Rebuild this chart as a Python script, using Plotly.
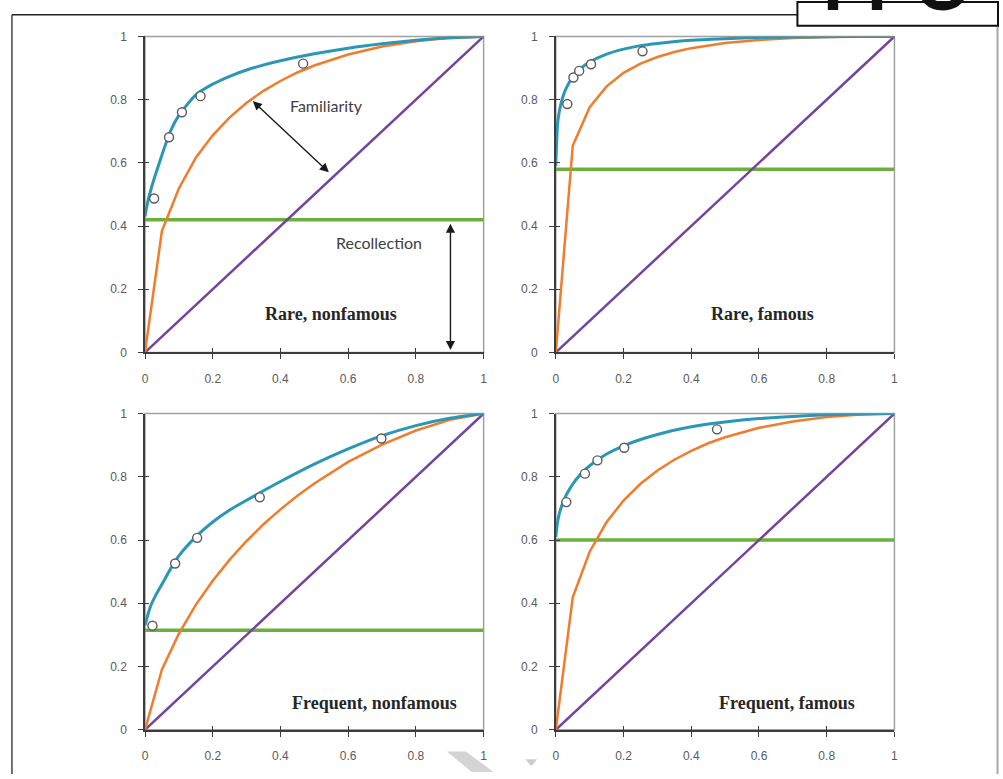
import plotly.graph_objects as go

# ---------------- data ----------------
panel_names = ["Rare, nonfamous", "Rare, famous", "Frequent, nonfamous", "Frequent, famous"]
recollection = [0.42, 0.58, 0.315, 0.60]

tick_vals = [0, 0.2, 0.4, 0.6, 0.8, 1]
tick_text = ["0", "0.2", "0.4", "0.6", "0.8", "1"]

chance_x = [0, 1]
chance_y = [0, 1]

# familiarity-only ROC (orange)
fam_x = [0, 0.05, 0.1, 0.15, 0.2, 0.25, 0.3, 0.35, 0.4, 0.45, 0.5, 0.6, 0.7, 0.8, 0.9, 1.0]
fam_y_rare_nonfamous = [0, 0.385, 0.519, 0.616, 0.687, 0.744, 0.790, 0.828, 0.859, 0.886, 0.908, 0.943, 0.968, 0.985, 0.9955, 1]
fam_y_rare_famous = [0, 0.654, 0.776, 0.842, 0.885, 0.914, 0.935, 0.951, 0.963, 0.972, 0.979, 0.989, 0.995, 0.9985, 0.9998, 1]
fam_y_freq_nonfamous = [0, 0.191, 0.304, 0.395, 0.471, 0.538, 0.597, 0.650, 0.697, 0.740, 0.779, 0.847, 0.902, 0.9465, 0.980, 1]
fam_y_freq_famous = [0, 0.419, 0.563, 0.657, 0.725, 0.778, 0.820, 0.854, 0.882, 0.906, 0.925, 0.955, 0.975, 0.989, 0.997, 1]

# fitted dual-process ROC (teal)
fit_x = [0, 0.005, 0.01, 0.02, 0.03, 0.05, 0.075, 0.1, 0.15, 0.2, 0.25, 0.3, 0.4, 0.5, 0.6, 0.7, 0.8, 0.9, 1.0]
fit_y_rare_nonfamous = [0.43, 0.46, 0.485, 0.525, 0.56, 0.625, 0.70, 0.75, 0.815, 0.849, 0.874, 0.894, 0.923, 0.945, 0.963, 0.977, 0.988, 0.996, 1]
fit_y_rare_famous = [0.59, 0.721, 0.761, 0.806, 0.835, 0.871, 0.900, 0.919, 0.944, 0.960, 0.971, 0.978, 0.988, 0.993, 0.997, 0.998, 0.999, 1.0, 1.0]
fit_y_freq_nonfamous = [0.33, 0.35, 0.37, 0.40, 0.422, 0.46, 0.508, 0.55, 0.61, 0.657, 0.695, 0.726, 0.785, 0.84, 0.888, 0.93, 0.962, 0.985, 1]
fit_y_freq_famous = [0.61, 0.656, 0.682, 0.716, 0.741, 0.777, 0.810, 0.835, 0.872, 0.898, 0.918, 0.934, 0.958, 0.973, 0.984, 0.991, 0.996, 0.999, 1.0]

# observed ROC points (circles)
obs_fa_rare_nonfamous = [0.027, 0.071, 0.109, 0.164, 0.467]
obs_hit_rare_nonfamous = [0.487, 0.681, 0.760, 0.811, 0.914]
obs_fa_rare_famous = [0.034, 0.052, 0.069, 0.104, 0.256]
obs_hit_rare_famous = [0.786, 0.870, 0.891, 0.912, 0.953]
obs_fa_freq_nonfamous = [0.022, 0.089, 0.154, 0.339, 0.698]
obs_hit_freq_nonfamous = [0.329, 0.526, 0.607, 0.735, 0.921]
obs_fa_freq_famous = [0.031, 0.086, 0.123, 0.202, 0.476]
obs_hit_freq_famous = [0.720, 0.810, 0.852, 0.892, 0.950]

fam_ys = [fam_y_rare_nonfamous, fam_y_rare_famous, fam_y_freq_nonfamous, fam_y_freq_famous]
fit_ys = [fit_y_rare_nonfamous, fit_y_rare_famous, fit_y_freq_nonfamous, fit_y_freq_famous]
obs_fas = [obs_fa_rare_nonfamous, obs_fa_rare_famous, obs_fa_freq_nonfamous, obs_fa_freq_famous]
obs_hits = [obs_hit_rare_nonfamous, obs_hit_rare_famous, obs_hit_freq_nonfamous, obs_hit_freq_famous]

# ---------------- styling ----------------
W, H = 1003, 779
TEAL = "#2a97b5"
ORANGE = "#f07c2c"
PURPLE = "#7443a0"
GREEN = "#6bb03c"
AXIS = "#3c3c3c"
FRAME = "#a0a0a0"


def px(x):
    return x / W


def py(y):
    return 1 - y / H


x_domains = [[px(143), px(484)], [px(556.7), px(897.7)]]
y_domains = [[py(351.7), py(30)], [py(736), py(414)]]

fig = go.Figure()

label_pos = [(0.548, 0.12), (0.611, 0.12), (0.679, 0.084), (0.684, 0.084)]

for i in range(4):
    xa = "x" if i == 0 else f"x{i+1}"
    ya = "y" if i == 0 else f"y{i+1}"
    R = recollection[i]
    fig.add_trace(go.Scatter(x=[0, 1], y=[R, R], xaxis=xa, yaxis=ya, mode="lines",
                             line=dict(color=GREEN, width=3.5), showlegend=False, hoverinfo="skip"))
    fig.add_trace(go.Scatter(x=chance_x, y=chance_y, xaxis=xa, yaxis=ya, mode="lines",
                             line=dict(color=PURPLE, width=2.5), showlegend=False, hoverinfo="skip"))
    fig.add_trace(go.Scatter(x=fam_x, y=fam_ys[i], xaxis=xa, yaxis=ya, mode="lines",
                             line=dict(color=ORANGE, width=2.5), showlegend=False))
    fig.add_trace(go.Scatter(x=fit_x, y=fit_ys[i], xaxis=xa, yaxis=ya, mode="lines",
                             line=dict(color=TEAL, width=3, shape="spline", smoothing=0.6), showlegend=False))
    fig.add_trace(go.Scatter(x=obs_fas[i], y=obs_hits[i], xaxis=xa, yaxis=ya, mode="markers",
                             marker=dict(symbol="circle", size=9, color="white",
                                         line=dict(color="#5a5a5a", width=1.4)),
                             showlegend=False, cliponaxis=False))

    col = i % 2
    row = i // 2
    axis_common = dict(range=[0, 1], tickvals=tick_vals, ticktext=tick_text, showgrid=False,
                       zeroline=False, showline=True, linecolor=AXIS, linewidth=1.5,
                       ticks="outside", ticklen=5, tickwidth=1.3, tickcolor=AXIS,
                       tickfont=dict(family="Liberation Sans, Arial", size=12, color="#5a5a5a"),
                       ticklabelstandoff=9, fixedrange=True)
    xkey = "xaxis" if i == 0 else f"xaxis{i+1}"
    ykey = "yaxis" if i == 0 else f"yaxis{i+1}"
    fig.update_layout(**{
        xkey: dict(domain=x_domains[col], anchor=ya, **axis_common),
        ykey: dict(domain=y_domains[row], anchor=xa, **axis_common),
    })

    # overlay axes that add the inner half of each tick mark (cross-shaped ticks)
    ox, oy = f"x{i+5}", f"y{i+5}"
    inner_ticks = dict(range=[0, 1], tickvals=tick_vals, showticklabels=False, showgrid=False,
                       zeroline=False, showline=False, ticks="inside", ticklen=4, tickwidth=1.3,
                       tickcolor=AXIS, fixedrange=True)
    fig.update_layout(**{
        f"xaxis{i+5}": dict(overlaying=xa, anchor=oy, domain=x_domains[col], **inner_ticks),
        f"yaxis{i+5}": dict(overlaying=ya, anchor=ox, domain=y_domains[row], **inner_ticks),
    })
    fig.add_trace(go.Scatter(x=[None], y=[None], xaxis=ox, yaxis=oy, mode="markers",
                             showlegend=False, hoverinfo="skip"))

    # gray plot frame
    fig.add_shape(type="rect", xref=f"{xa} domain", yref=f"{ya} domain", x0=0, x1=1, y0=0, y1=1,
                  line=dict(color=FRAME, width=1.5), layer="below")
    lx, ly = label_pos[i]
    fig.add_annotation(x=lx, y=ly, xref=xa, yref=ya, text=f"<b>{panel_names[i]}</b>", showarrow=False,
                       font=dict(family="Liberation Serif, Times New Roman", size=18, color="#262626"))

# Familiarity / Recollection annotations
fig.add_annotation(x=0.537, y=0.782, xref="x", yref="y", text="Familiarity", showarrow=False,
                   font=dict(family="Lato", size=16, color="#404040"))
fig.add_annotation(x=0.692, y=0.347, xref="x", yref="y", text="Recollection", showarrow=False,
                   font=dict(family="Lato", size=16, color="#404040"))
fig.add_annotation(x=0.543, y=0.570, ax=0.314, ay=0.80, xref="x", yref="y", axref="x", ayref="y",
                   text="", showarrow=True, arrowhead=2, startarrowhead=2, arrowside="end+start",
                   arrowsize=1.3, startarrowsize=1.3, arrowwidth=1.4, arrowcolor="#1a1a1a")
fig.add_annotation(x=0.902, y=0.0075, ax=0.902, ay=0.412, xref="x", yref="y", axref="x", ayref="y",
                   text="", showarrow=True, arrowhead=2, startarrowhead=2, arrowside="end+start",
                   arrowsize=1.3, startarrowsize=1.3, arrowwidth=1.4, arrowcolor="#1a1a1a")

# page frame lines
fig.add_shape(type="line", xref="paper", yref="paper", x0=px(9), x1=px(9), y0=py(8), y1=py(781),
              line=dict(color="#444444", width=1.5))
fig.add_shape(type="line", xref="paper", yref="paper", x0=px(9), x1=px(801), y0=py(8), y1=py(8),
              line=dict(color="#222222", width=1.5))
fig.add_shape(type="line", xref="paper", yref="paper", x0=px(1001.5), x1=px(1001.5), y0=py(19), y1=py(781),
              line=dict(color="#a8a8a8", width=2))
# FPO tag box
fig.add_shape(type="rect", xref="paper", yref="paper", x0=px(800), x1=px(1002), y0=py(19), y1=py(-5),
              line=dict(color="#111111", width=2), fillcolor="white")
fig.add_annotation(x=px(824), y=py(20.5), xref="paper", yref="paper", xanchor="left", yanchor="bottom",
                   text="<b>FPO</b>", showarrow=False,
                   font=dict(family="Liberation Sans, Arial", size=72, color="#111111"))
# faint watermark pieces
fig.add_shape(type="path", xref="paper", yref="paper",
              path=f"M {px(447)} {py(758)} L {px(466)} {py(758)} L {px(494)} {py(779)} L {px(472)} {py(779)} Z",
              fillcolor="#d4d4d4", line=dict(width=0))
fig.add_shape(type="path", xref="paper", yref="paper",
              path=f"M {px(526)} {py(766)} L {px(538)} {py(766)} L {px(532)} {py(773)} Z",
              fillcolor="#cccccc", line=dict(width=0))

fig.update_layout(width=W, height=H, margin=dict(l=0, r=0, t=0, b=0),
                  paper_bgcolor="white", plot_bgcolor="white", showlegend=False)

fig.write_html("out.html")
